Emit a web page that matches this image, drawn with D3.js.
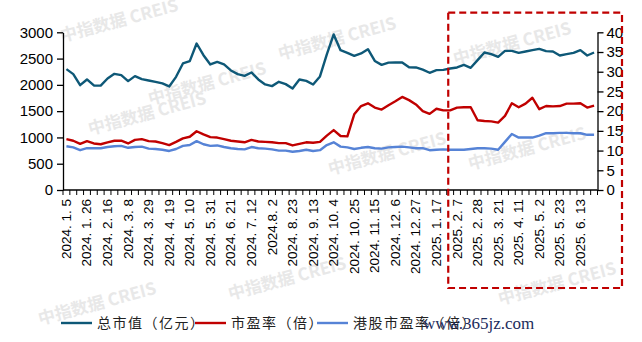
<!DOCTYPE html>
<html><head><meta charset="utf-8">
<script src="https://cdn.jsdelivr.net/npm/d3@7"></script>
<style>html,body{margin:0;padding:0;background:#fff;}svg{display:block;}</style>
</head><body>
<svg id="c" width="642" height="342"></svg>
<script>
const categories = [
"2024. 1. 5","2024. 1. 12","2024. 1. 19","2024. 1. 26","2024. 2. 2","2024. 2. 9","2024. 2. 16","2024. 2. 23",
"2024. 3. 1","2024. 3. 8","2024. 3. 15","2024. 3. 22","2024. 3. 29","2024. 4. 5","2024. 4. 12","2024. 4. 19",
"2024. 4. 26","2024. 5. 3","2024. 5. 10","2024. 5. 17","2024. 5. 24","2024. 5. 31","2024. 6. 7","2024. 6. 14",
"2024. 6. 21","2024. 6. 28","2024. 7. 5","2024. 7. 12","2024. 7. 19","2024. 7. 26","2024.8. 2","2024. 8. 9",
"2024. 8. 16","2024. 8. 23","2024. 8. 30","2024. 9. 6","2024. 9. 13","2024. 9. 20","2024. 9. 27","2024. 10. 4",
"2024. 10. 11","2024. 10. 18","2024. 10. 25","2024. 11. 1","2024. 11. 8","2024. 11. 15","2024. 11. 22","2024. 11. 29",
"2024. 12. 6","2024. 12. 13","2024. 12. 20","2024. 12. 27","2025. 1. 3","2025. 1. 10","2025. 1. 17","2025. 1. 24",
"2025. 1. 31","2025. 2. 7","2025. 2. 14","2025. 2. 21","2025. 2. 28","2025. 3. 7","2025. 3. 14","2025. 3. 21",
"2025. 3. 28","2025. 4. 4","2025. 4. 11","2025. 4. 18","2025. 4. 25","2025. 5. 2","2025. 5. 9","2025. 5. 16",
"2025. 5. 23","2025. 5. 30","2025. 6. 6","2025. 6. 13","2025. 6. 20","2025. 6. 27"];

// 总市值（亿元） – left axis
const marketCap = [2300,2204,1995,2103,1989,1985,2122,2210,2185,2071,2166,2109,2084,2058,2027,1970,
2153,2407,2451,2787,2565,2388,2438,2388,2274,2204,2172,2236,2103,2008,1976,2058,2014,1932,2103,2077,
2008,2160,2580,2960,2660,2609,2552,2597,2679,2455,2380,2423,2426,2426,2335,2331,2290,2230,2280,2286,
2312,2331,2381,2325,2470,2616,2584,2533,2647,2647,2609,2635,2660,2685,2641,2635,2559,2584,2609,2660,2559,2616];

// 市盈率（倍） – right axis
const pe = [12.9,12.5,11.7,12.4,11.8,11.6,12.1,12.5,12.5,11.8,12.7,12.9,12.4,12.3,11.9,11.4,
12.2,13.1,13.5,14.9,14.1,13.4,13.3,12.9,12.5,12.3,12.1,12.7,12.3,12.2,12.1,11.9,11.9,11.3,11.7,12.1,
12.0,12.2,13.8,15.2,13.7,13.6,19.2,21.3,22.0,20.9,20.4,21.5,22.5,23.6,22.8,21.7,20.0,19.3,20.6,20.2,
20.2,20.9,21.0,21.0,17.7,17.5,17.4,17.1,18.8,22.0,21.0,21.9,23.4,20.5,21.3,21.2,21.3,21.9,21.9,22.0,20.9,21.4];

// 港股市盈率（倍） – right axis
const hkPe = [11.1,10.8,10.1,10.6,10.6,10.6,10.9,11.1,11.2,10.7,10.9,11.0,10.5,10.4,10.2,9.9,
10.4,11.2,11.4,12.4,11.6,11.2,11.3,10.9,10.6,10.4,10.3,10.9,10.6,10.5,10.3,10.0,10.0,9.7,9.9,10.2,
9.9,10.1,11.4,12.1,11.0,10.8,10.4,10.7,10.9,10.6,10.5,10.8,10.9,11.0,10.8,10.6,10.6,10.1,10.2,10.3,
10.2,10.2,10.2,10.4,10.6,10.6,10.5,10.2,12.2,14.2,13.3,13.3,13.3,13.8,14.4,14.4,14.5,14.5,14.4,14.4,14.0,14.0];

const leftTicks = [0,500,1000,1500,2000,2500,3000];
const rightTicks = [0,5,10,15,20,25,30,35,40];
const seriesNames = ["总市值（亿元）","市盈率（倍）","港股市盈率（倍）"];
const colors = ["#0e5877","#c00000","#5683d6"];

const svg = d3.select("#c");
const L = 63, R = 597.5, T = 32.3, B = 190;

// watermarks
const wm = [[62,42],[150,105],[280,60],[455,65],[90,135],[470,170],[230,300],[500,305],[330,175],[40,325]];
wm.forEach(([wx,wy]) => {
  svg.append("text").attr("transform",`translate(${wx},${wy}) rotate(-15)`)
    .attr("font-family","Noto Sans CJK SC").attr("font-size",17).attr("font-weight","bold")
    .attr("fill","#e8e8e8").text("中指数据  CREIS");
});

const x = d3.scaleBand().domain(categories).range([L,R]).padding(0);
const bw = x.bandwidth();
const yL = d3.scaleLinear().domain([0,3000]).range([B,T]);
const yR = d3.scaleLinear().domain([0,40]).range([B,T]);

// left axis
const gl = svg.append("g").attr("transform",`translate(${L},0)`)
  .call(d3.axisLeft(yL).tickValues(leftTicks).tickFormat(d3.format("d")).tickSize(6).tickPadding(4).tickSizeOuter(0));
// right axis
const gr = svg.append("g").attr("transform",`translate(${R},0)`)
  .call(d3.axisRight(yR).tickValues(rightTicks).tickFormat(d3.format("d")).tickSize(6).tickPadding(3).tickSizeOuter(0));
[gl,gr].forEach(g=>{
  g.selectAll("text").attr("font-family","Liberation Sans, Arial").attr("font-size",15).attr("fill","#000");
  g.selectAll("line,path").attr("stroke","#000").attr("stroke-width",1.3);
});

// bottom axis
const gb = svg.append("g");
gb.append("line").attr("x1",L).attr("x2",R).attr("y1",B).attr("y2",B).attr("stroke","#000").attr("stroke-width",1.3);
categories.forEach((c,i)=>{
  gb.append("line").attr("x1",x(c)).attr("x2",x(c)).attr("y1",B).attr("y2",B+5).attr("stroke","#000").attr("stroke-width",1);
});
gb.append("line").attr("x1",R).attr("x2",R).attr("y1",B).attr("y2",B+5).attr("stroke","#000");
categories.forEach((c,i)=>{
  if(i%3!==0) return;
  const cx = x(c)+bw/2;
  gb.append("text").attr("transform",`translate(${cx+4.5},${B+9}) rotate(-90)`)
    .attr("text-anchor","end").attr("font-family","Liberation Sans, Arial").attr("font-size",13.5)
    .attr("fill","#000").text(c);
});

// lines
const mk = (arr, ys) => d3.line().x((d,i)=>x(categories[i])+bw/2).y(d=>ys(d))(arr);
[[marketCap,yL],[pe,yR],[hkPe,yR]].forEach(([arr,ys],k)=>{
  svg.append("path").attr("d",mk(arr,ys)).attr("fill","none").attr("stroke",colors[k])
    .attr("stroke-width",2.4).attr("stroke-linejoin","round");
});

// dashed highlight box
const bx0 = x(categories[56]) + 1.5;
svg.append("rect").attr("x",bx0).attr("y",12.7).attr("width",622-bx0).attr("height",288-12.7)
  .attr("fill","none").attr("stroke","#c00000").attr("stroke-width",2.2).attr("stroke-dasharray","7,4");

// legend
const legX = [61,195,317];
seriesNames.forEach((n,k)=>{
  svg.append("line").attr("x1",legX[k]).attr("x2",legX[k]+31).attr("y1",323).attr("y2",323)
    .attr("stroke",colors[k]).attr("stroke-width",2.4);
  svg.append("text").attr("x",legX[k]+36).attr("y",328).attr("font-family","Noto Sans CJK SC")
    .attr("font-size",14).attr("letter-spacing",1.5).attr("fill","#222").text(n);
});
svg.append("text").attr("x",423).attr("y",329).attr("font-family","Liberation Serif")
  .attr("font-size",17).attr("fill","#1c2c5c").text("www.365jz.com");
</script>
</body></html>
